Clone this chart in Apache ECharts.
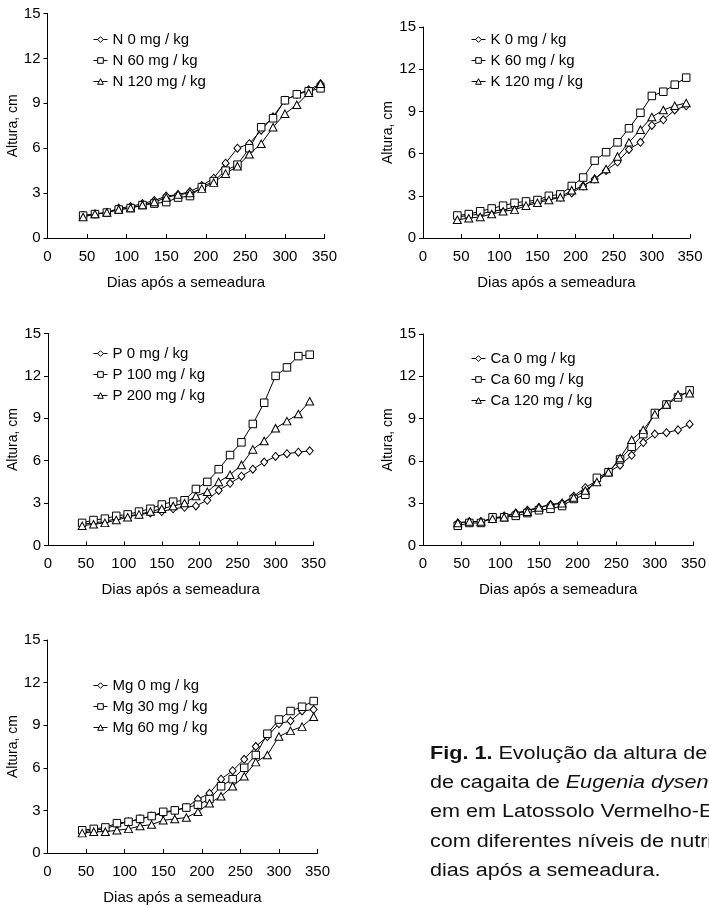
<!DOCTYPE html>
<html>
<head>
<meta charset="utf-8">
<script src="https://cdn.jsdelivr.net/npm/echarts@6/dist/echarts.min.js"></script>
<style>
  html, body { margin: 0; padding: 0; background: #fff; }
  #main { width: 709px; height: 906px; }
</style>
</head>
<body>
<div id="main"></div>
<script>
// dias após a semeadura
var dias = [45, 60, 75, 90, 105, 120, 135, 150, 165, 180, 195, 210, 225, 240, 255, 270, 285, 300, 315, 330, 345];

// N
var n0   = [1.5, 1.6, 1.7, 2.0, 2.1, 2.3, 2.5, 2.8, 2.9, 3.1, 3.5, 4.0, 5.0, 6.0, 6.3, 7.2, 8.1, 9.2, 9.6, 9.9, 10.3];
var n60  = [1.5, 1.6, 1.7, 1.9, 2.0, 2.2, 2.3, 2.4, 2.7, 2.8, 3.4, 3.8, 4.5, 4.9, 6.0, 7.4, 8.0, 9.2, 9.6, 9.8, 10.0];
var n120 = [1.4, 1.6, 1.7, 1.9, 2.0, 2.2, 2.4, 2.7, 2.9, 3.0, 3.3, 3.7, 4.3, 4.8, 5.6, 6.3, 7.4, 8.3, 8.9, 9.7, 10.3];
// K
var k0   = [1.5, 1.6, 1.7, 1.9, 2.0, 2.2, 2.4, 2.6, 2.8, 2.9, 3.2, 3.7, 4.2, 4.8, 5.4, 6.3, 6.8, 8.0, 8.4, 9.1, 9.4];
var k60  = [1.6, 1.7, 1.9, 2.1, 2.3, 2.5, 2.6, 2.7, 3.0, 3.1, 3.7, 4.3, 5.5, 6.1, 6.8, 7.8, 8.9, 10.1, 10.4, 10.9, 11.4];
var k120 = [1.3, 1.4, 1.5, 1.7, 1.9, 2.0, 2.3, 2.5, 2.7, 2.9, 3.4, 3.7, 4.2, 4.9, 5.8, 6.8, 7.7, 8.6, 9.1, 9.4, 9.6];
// P
var p0   = [1.5, 1.6, 1.7, 1.9, 2.1, 2.2, 2.3, 2.4, 2.6, 2.7, 2.8, 3.2, 3.9, 4.4, 4.9, 5.4, 5.9, 6.3, 6.5, 6.6, 6.7];
var p100 = [1.6, 1.8, 1.9, 2.1, 2.2, 2.4, 2.6, 2.9, 3.1, 3.2, 4.0, 4.5, 5.4, 6.4, 7.3, 8.6, 10.1, 12.0, 12.6, 13.4, 13.5];
var p200 = [1.4, 1.5, 1.6, 1.8, 2.0, 2.2, 2.4, 2.6, 2.8, 3.0, 3.5, 3.8, 4.5, 5.0, 5.7, 6.8, 7.4, 8.3, 8.8, 9.3, 10.2];
// Ca
var ca0   = [1.6, 1.7, 1.7, 1.9, 2.1, 2.3, 2.5, 2.7, 2.9, 3.0, 3.5, 4.1, 4.6, 5.2, 5.7, 6.4, 7.3, 7.9, 8.0, 8.2, 8.6];
var ca60  = [1.4, 1.6, 1.6, 2.0, 2.0, 2.1, 2.3, 2.5, 2.6, 2.8, 3.3, 3.6, 4.8, 5.2, 6.1, 7.0, 7.9, 9.4, 10.0, 10.5, 11.0];
var ca120 = [1.6, 1.7, 1.7, 1.9, 2.0, 2.3, 2.4, 2.7, 2.9, 3.0, 3.4, 3.9, 4.5, 5.2, 6.2, 7.5, 8.2, 9.3, 10.0, 10.7, 10.8];
// Mg
var mg0  = [1.5, 1.6, 1.7, 2.0, 2.2, 2.4, 2.6, 2.8, 3.0, 3.2, 3.8, 4.2, 5.2, 5.8, 6.6, 7.5, 8.2, 9.1, 9.3, 10.0, 10.1];
var mg30 = [1.6, 1.7, 1.8, 2.1, 2.2, 2.4, 2.6, 2.9, 3.0, 3.2, 3.4, 3.8, 4.7, 5.2, 6.0, 6.9, 8.4, 9.4, 10.0, 10.3, 10.7];
var mg60 = [1.4, 1.5, 1.5, 1.6, 1.7, 1.9, 2.0, 2.3, 2.4, 2.5, 2.9, 3.5, 4.0, 4.7, 5.4, 6.4, 6.9, 8.2, 8.6, 8.9, 9.6];

var fonte = '"Liberation Sans", Arial, sans-serif';
var simbolos = ['diamond', 'rect', 'triangle'];
var tamanhos = [[7, 8], 7.5, [8, 7.5]];

// cada painel: grade, legenda e as tres series
var paineis = [
    { grid: {left: 47.5, top: 13.5, width: 277, height: 224.5}, legenda: {left: 93, top: 32},
      nomes: ['N 0 mg / kg', 'N 60 mg / kg', 'N 120 mg / kg'], dados: [n0, n60, n120] },
    { grid: {left: 423, top: 27, width: 267, height: 211}, legenda: {left: 471, top: 32},
      nomes: ['K 0 mg / kg', 'K 60 mg / kg', 'K 120 mg / kg'], dados: [k0, k60, k120] },
    { grid: {left: 48, top: 333.5, width: 265.5, height: 212}, legenda: {left: 93, top: 346},
      nomes: ['P 0 mg / kg', 'P 100 mg / kg', 'P 200 mg / kg'], dados: [p0, p100, p200] },
    { grid: {left: 423, top: 334, width: 272, height: 211.5}, legenda: {left: 471, top: 351},
      nomes: ['Ca 0 mg / kg', 'Ca 60 mg / kg', 'Ca 120 mg / kg'], dados: [ca0, ca60, ca120] },
    { grid: {left: 47.5, top: 640, width: 270, height: 215}, legenda: {left: 93, top: 678},
      nomes: ['Mg 0 mg / kg', 'Mg 30 mg / kg', 'Mg 60 mg / kg'], dados: [mg0, mg30, mg60] }
];

var texto = { color: '#000', fontFamily: fonte, fontSize: 15 };

var grids = [], xAxes = [], yAxes = [], legends = [], series = [];

paineis.forEach(function(p, i){
    grids.push(p.grid);
    xAxes.push({
        gridIndex: i, type: 'value', min: 0, max: 350, interval: 50,
        name: 'Dias após a semeadura', nameLocation: 'middle', nameGap: 37,
        nameTextStyle: texto,
        axisLine: { show: true, lineStyle: { color: '#000', width: 1 } },
        axisTick: { show: true, inside: true, length: 4, lineStyle: { color: '#000' } },
        axisLabel: { margin: 11, color: '#000', fontFamily: fonte, fontSize: 15 },
        splitLine: { show: false }
    });
    yAxes.push({
        gridIndex: i, type: 'value', min: 0, max: 15, interval: 3,
        name: 'Altura, cm', nameLocation: 'middle', nameGap: 27,
        nameTextStyle: { color: '#000', fontFamily: fonte, fontSize: 14 },
        axisLine: { show: true, lineStyle: { color: '#000', width: 1 } },
        axisTick: { show: true, length: 4, lineStyle: { color: '#000' } },
        axisLabel: { margin: 7, color: '#000', fontFamily: fonte, fontSize: 15 },
        splitLine: { show: false }
    });
    legends.push({
        data: p.nomes, orient: 'vertical', left: p.legenda.left, top: p.legenda.top,
        itemWidth: 14, itemHeight: 7, itemGap: 6, padding: 0,
        selectedMode: false, textStyle: texto,
        itemStyle: { color: '#fff', borderColor: '#000', borderWidth: 1 },
        lineStyle: { color: '#000', width: 1 }
    });
    p.dados.forEach(function(valores, j){
        series.push({
            name: p.nomes[j], type: 'line', xAxisIndex: i, yAxisIndex: i,
            data: dias.map(function(d, k){ return [d, valores[k]]; }),
            symbol: simbolos[j], symbolSize: tamanhos[j], showAllSymbol: true,
            lineStyle: { color: '#000', width: 1 },
            itemStyle: { color: '#fff', borderColor: '#000', borderWidth: 1 },
            emphasis: { disabled: true },
            animation: false
        });
    });
});

// legenda da figura (cortada na borda direita, como no original)
var legendaFig = [
    '{b|Fig. 1.} Evolução da altura de mudas',
    'de cagaita de {i|Eugenia dysenterica} cultivadas',
    'em em Latossolo Vermelho-Escuro',
    'com diferentes níveis de nutrientes, aos',
    'dias após a semeadura.'
];

// a fonte do original e mais larga: texto esticado na horizontal
var graficos = legendaFig.map(function(linha, i){
    return {
        type: 'text', x: 430, y: 754 + i * 29.2, scaleX: 1.2,
        style: {
            text: linha, fontSize: 18, fontFamily: fonte, fill: '#111',
            verticalAlign: 'middle',
            rich: {
                b: { fontSize: 18, fontFamily: fonte, fontWeight: 'bold', fill: '#111' },
                i: { fontSize: 18, fontFamily: fonte, fontStyle: 'italic', fill: '#111' }
            }
        }
    };
});

var chart = echarts.init(document.getElementById('main'));
chart.setOption({
    backgroundColor: '#fff',
    animation: false,
    grid: grids,
    xAxis: xAxes,
    yAxis: yAxes,
    legend: legends,
    series: series,
    graphic: graficos
});
</script>
</body>
</html>
